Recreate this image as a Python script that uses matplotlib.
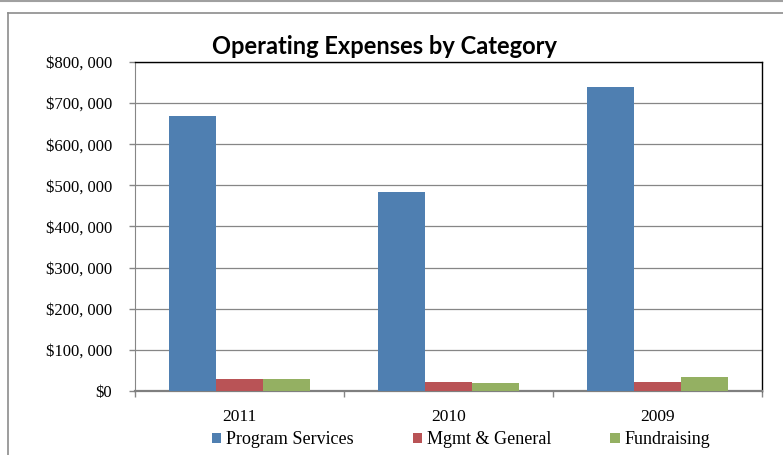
import matplotlib.pyplot as plt
from matplotlib.lines import Line2D
from matplotlib.ticker import FuncFormatter

# dados
anos = ['2011', '2010', '2009']
servicos = [668000, 484000, 739000]
gestao = [29000, 22000, 22000]
captacao = [29000, 19500, 34000]
series = ['Program Services', 'Mgmt & General', 'Fundraising']
cores = ['#4F7FB1', '#B95356', '#94B062']
y_ticks = [0, 100000, 200000, 300000, 400000, 500000, 600000, 700000, 800000]

fig = plt.figure(figsize=(7.83, 4.55), dpi=100)
ax = fig.add_axes([135 / 783, 64 / 455, 627 / 783, 329 / 455])

largura = 0.225
x = range(len(anos))
valores = [servicos, gestao, captacao]
barras = []
for i, (nome, vals, cor) in enumerate(zip(series, valores, cores)):
    pos = [xi + (i - 1) * largura for xi in x]
    b = ax.bar(pos, vals, width=largura, color=cor, label=nome, zorder=3)
    barras.append(b)

ax.set_xlim(-0.5, len(anos) - 0.5)
ax.set_ylim(0, 800000)
ax.set_yticks(y_ticks)
ax.yaxis.set_major_formatter(FuncFormatter(lambda v, p: '${:,}'.format(int(v)).replace(',', ', ')))
ax.grid(axis='y', color='#868686', linewidth=0.9, zorder=0)

# marcas nos limites das categorias, rótulos no centro
ax.set_xticks([i - 0.5 for i in range(len(anos) + 1)])
ax.set_xticklabels([])
ax.set_xticks(list(x), minor=True)
ax.set_xticklabels(anos, minor=True, fontsize=12.5, family='Liberation Serif')
ax.tick_params(axis='x', which='major', length=4, color='#868686', width=1)
ax.tick_params(axis='x', which='minor', length=0, pad=13)
ax.tick_params(axis='y', length=4.5, color='#868686', width=1, pad=12, labelsize=12)
for t in ax.get_yticklabels():
    t.set_family('Liberation Serif')

ax.spines['top'].set_color('black')
ax.spines['right'].set_color('black')
ax.spines['top'].set_linewidth(1)
ax.spines['right'].set_linewidth(1)
ax.spines['left'].set_color('#868686')
ax.spines['bottom'].set_color('#7F7F7F')
ax.spines['bottom'].set_linewidth(1.6)

fig.text(384 / 783, 1 - 47 / 455, 'Operating Expenses by Category', ha='center', va='center',
         fontsize=17, fontweight='bold', family='Lato')

leg = fig.legend(handles=barras, loc='center', bbox_to_anchor=(461 / 783, 1 - 440 / 455), ncol=3,
                 frameon=False, prop={'family': 'Liberation Serif', 'size': 13},
                 handlelength=0.5, handleheight=0.5, handletextpad=0.25, columnspacing=3.3)

# moldura de fundo
fig.add_artist(Line2D([0, 1], [1 - 1 / 455, 1 - 1 / 455], transform=fig.transFigure, color='#A0A0A0', linewidth=1.5))
fig.add_artist(Line2D([8 / 783, 1], [1 - 12.7 / 455, 1 - 12.7 / 455], transform=fig.transFigure, color='#8C8C8C', linewidth=1.2))
fig.add_artist(Line2D([8 / 783, 8 / 783], [0, 1 - 12.7 / 455], transform=fig.transFigure, color='#8C8C8C', linewidth=1.2))

fig.savefig('out.png', dpi=100)
